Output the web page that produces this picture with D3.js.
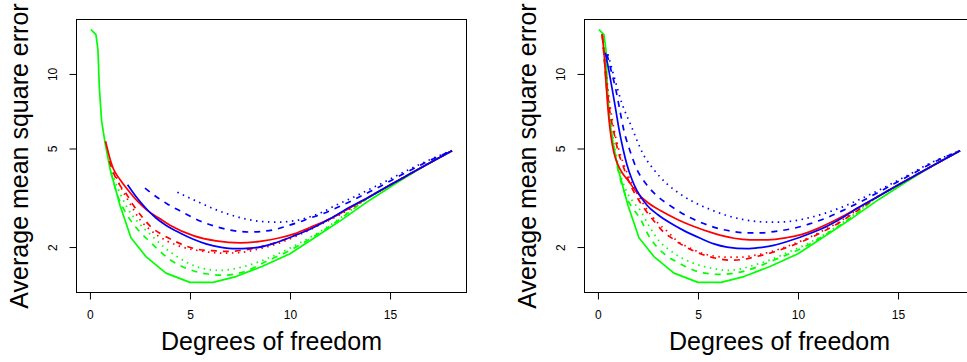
<!DOCTYPE html>
<meta charset="utf-8">
<title>Average mean square error vs degrees of freedom</title>
<style>

body {
  margin: 0;
  background: #fff;
}

text {
  font-family: "Liberation Sans", Arial, sans-serif;
  fill: #000;
}

.frame {
  fill: none;
  stroke: #000;
  stroke-width: 1px;
}

.tick line {
  stroke: #000;
}

.curve {
  fill: none;
  stroke-width: 1.7px;
  stroke-linejoin: round;
}

</style>
<svg width="967" height="362"></svg>
<script src="https://d3js.org/d3.v7.min.js"></script>
<script>

// tick labels
var dfTicks = [0, 5, 10, 15];
var mseTicks = [2, 5, 10];

// [degrees of freedom, average MSE]

// the part every curve shares once df gets large
var tail = [[14, 3.2], [15, 3.56], [16, 3.95], [17, 4.38], [18.1, 4.9]];

// green solid line is the same in both panels
var greenSolid = [[0.05, 15.1], [0.3, 14.4], [0.4, 12.5], [0.47, 8.8], [0.58, 6.5], [0.75, 5.3],
  [1.0, 4.15], [1.5, 2.95], [2.05, 2.18], [2.8, 1.83], [3.8, 1.57], [5.0, 1.44], [6.15, 1.44],
  [7.3, 1.52], [8.6, 1.67], [10.0, 1.88], [11.3, 2.2], [12.6, 2.58], [14.0, 3.1], [15.3, 3.62],
  [16.7, 4.25], [18.1, 4.9]];

// left panel
var leftGreenDashed = [[1.05, 4.0], [1.4, 3.2], [1.85, 2.7], [2.4, 2.35], [3.0, 2.1], [4.0, 1.78],
  [5.0, 1.62], [5.8, 1.56], [6.7, 1.54], [7.8, 1.6], [8.8, 1.75], [10, 1.94], [11, 2.16],
  [12, 2.43], [13, 2.78]].concat(tail);
var leftGreenDotted = [[1.1, 4.0], [1.4, 3.45], [1.85, 2.9], [2.4, 2.52], [3.0, 2.26], [3.7, 2.0],
  [4.4, 1.82], [5.5, 1.65], [6.5, 1.61], [7.6, 1.66], [8.8, 1.79], [10, 1.98], [11, 2.19],
  [12, 2.45], [13, 2.8]].concat(tail);
var leftRedSolid = [[0.78, 5.35], [1.0, 4.55], [1.17, 4.14], [1.5, 3.75], [1.85, 3.44], [2.4, 3.05],
  [2.85, 2.82], [3.5, 2.6], [4.0, 2.45], [5.2, 2.22], [6.3, 2.12], [7.5, 2.08], [8.5, 2.11],
  [9.5, 2.18], [10.2, 2.26], [11, 2.4], [12, 2.6], [13, 2.88]].concat(tail);
var leftRedDashed = [[0.97, 4.45], [1.2, 3.95], [1.5, 3.55], [1.83, 3.27], [2.17, 2.95], [2.6, 2.65],
  [3.08, 2.4], [3.6, 2.25], [4.0, 2.16], [4.8, 2.02], [5.5, 1.95], [6.3, 1.93], [6.9, 1.92],
  [7.8, 1.95], [8.8, 2.03], [9.83, 2.16], [11, 2.38], [12, 2.6], [13, 2.88]].concat(tail);
var leftRedDotted = [[1.1, 4.25], [1.5, 3.55], [2.0, 3.0], [2.5, 2.58], [3.0, 2.35], [3.4, 2.22],
  [4.3, 2.04], [5.5, 1.93], [6.7, 1.89], [7.5, 1.9], [8.5, 1.97], [9.5, 2.08], [10.5, 2.25],
  [11.5, 2.46], [12.5, 2.7], [13.3, 2.95]].concat(tail);
var leftBlueSolid = [[1.88, 3.57], [2.3, 3.2], [2.83, 2.85], [3.3, 2.62], [3.83, 2.44], [4.5, 2.28],
  [5.17, 2.15], [5.8, 2.06], [6.5, 2.0], [7.3, 1.97], [8.0, 1.98], [8.5, 2.0], [9.2, 2.07],
  [9.83, 2.16], [10.5, 2.27], [11, 2.36], [12, 2.6], [13, 2.9]].concat(tail);
var leftBlueDashed = [[2.75, 3.46], [3.3, 3.2], [3.83, 3.0], [4.5, 2.8], [5.5, 2.55], [6.3, 2.42],
  [7.17, 2.33], [8.0, 2.3], [8.5, 2.31], [9.2, 2.35], [9.83, 2.43], [10.5, 2.53], [11, 2.62],
  [11.5, 2.7], [12.33, 2.88], [13.17, 3.1], [14, 3.35], [14.83, 3.63], [15.7, 3.96], [16.5, 4.28],
  [17.3, 4.6], [18.1, 4.9]];
var leftBlueDotted = [[4.37, 3.33], [5.0, 3.15], [5.5, 3.02], [6.2, 2.85], [6.83, 2.73], [7.5, 2.63],
  [8.17, 2.56], [8.8, 2.53], [9.33, 2.52], [10, 2.54], [10.5, 2.58], [11, 2.65], [11.5, 2.74],
  [12.33, 2.96], [13.17, 3.18], [14, 3.43], [14.83, 3.7], [15.7, 4.02], [16.5, 4.32],
  [17.3, 4.62], [18.1, 4.9]];

// right panel
var rightGreenDashed = [[0.22, 14.3], [0.3, 12.0], [0.42, 9.0], [0.55, 7.0], [0.7, 5.6], [0.9, 4.5],
  [1.1, 3.8], [1.4, 3.2], [1.7, 2.9], [2.12, 2.6], [2.5, 2.25], [2.95, 2.0], [3.45, 1.84],
  [3.95, 1.74], [4.5, 1.65], [5.12, 1.58], [5.6, 1.56], [6.1, 1.55], [6.8, 1.57], [7.45, 1.61],
  [8.1, 1.68], [8.78, 1.77], [9.5, 1.87], [10.3, 2.0], [11.2, 2.2], [12.1, 2.45], [13, 2.76]].concat(tail);
var rightGreenDotted = [[0.22, 14.3], [0.3, 12.2], [0.42, 9.4], [0.55, 7.4], [0.7, 6.0], [0.9, 4.8],
  [1.1, 4.0], [1.4, 3.4], [1.75, 3.05], [2.12, 2.81], [2.6, 2.4], [3.12, 2.09], [3.6, 1.94],
  [4.12, 1.82], [4.7, 1.73], [5.28, 1.67], [5.9, 1.63], [6.45, 1.61], [7.1, 1.63], [7.78, 1.69],
  [8.4, 1.75], [8.95, 1.82], [9.6, 1.92], [10.3, 2.03], [11.2, 2.22], [12.1, 2.47], [13, 2.78]].concat(tail);
var rightRedSolid = [[0.2, 14.5], [0.3, 12.3], [0.4, 9.3], [0.53, 6.8], [0.65, 5.6], [0.8, 4.8],
  [1.0, 4.3], [1.2, 4.0], [1.5, 3.72], [1.95, 3.32], [2.5, 3.02], [3.12, 2.81], [4.0, 2.58],
  [4.8, 2.42], [5.8, 2.27], [6.8, 2.17], [7.6, 2.14], [8.5, 2.14], [9.4, 2.18], [10.2, 2.25],
  [11, 2.38], [12, 2.6], [13, 2.88]].concat(tail);
var rightRedDashed = [[0.22, 14.3], [0.3, 12.0], [0.45, 8.8], [0.6, 7.0], [0.78, 5.9], [1.0, 4.9],
  [1.28, 4.2], [1.6, 3.6], [1.95, 3.18], [2.4, 2.8], [2.78, 2.56], [3.28, 2.3], [3.78, 2.15],
  [4.12, 2.06], [4.6, 1.96], [5.12, 1.88], [5.95, 1.8], [6.6, 1.77], [7.2, 1.78], [7.78, 1.82],
  [8.78, 1.91], [9.5, 2.0], [10.3, 2.12], [11.2, 2.3], [12.1, 2.52], [13, 2.82]].concat(tail);
var rightRedDotted = [[0.22, 14.3], [0.3, 12.2], [0.45, 9.4], [0.6, 7.5], [0.8, 6.0], [1.0, 5.1],
  [1.3, 4.3], [1.6, 3.75], [2.0, 3.25], [2.5, 2.8], [3.0, 2.5], [3.5, 2.3], [3.95, 2.12],
  [4.5, 2.0], [5.12, 1.9], [5.8, 1.84], [6.45, 1.82], [7.1, 1.82], [7.78, 1.85], [8.78, 1.93],
  [9.5, 2.02], [10.3, 2.14], [11.2, 2.32], [12.1, 2.54], [13, 2.84]].concat(tail);
var rightBlueSolid = [[0.37, 12.2], [0.5, 10.8], [0.7, 8.8], [0.9, 7.1], [1.05, 6.0], [1.25, 5.0],
  [1.45, 4.3], [1.7, 3.75], [1.95, 3.38], [2.45, 2.95], [3.0, 2.7], [3.62, 2.5], [4.3, 2.33],
  [5.12, 2.17], [5.8, 2.06], [6.45, 2.0], [7.45, 1.97], [8.1, 1.99], [8.78, 2.03], [9.5, 2.11],
  [10.6, 2.27], [11.5, 2.44], [12.3, 2.65], [13, 2.88]].concat(tail);
var rightBlueDashed = [[0.45, 12.0], [0.65, 10.4], [0.9, 8.6], [1.1, 7.1], [1.3, 5.9], [1.6, 4.9],
  [1.9, 4.2], [2.4, 3.6], [2.95, 3.22], [3.5, 2.98], [3.95, 2.82], [4.6, 2.63], [5.28, 2.49],
  [6.0, 2.38], [6.78, 2.31], [7.5, 2.28], [8.1, 2.28], [8.8, 2.31], [9.78, 2.38], [10.5, 2.47],
  [11.3, 2.6], [12.2, 2.8], [13.1, 3.04], [14, 3.32], [14.8, 3.6], [15.7, 3.94], [16.5, 4.28],
  [17.3, 4.6], [18.1, 4.9]];
var rightBlueDotted = [[0.5, 12.0], [0.8, 9.8], [1.2, 7.6], [1.65, 6.2], [2.25, 4.76], [2.8, 4.1],
  [3.45, 3.6], [4.1, 3.28], [4.78, 3.04], [5.6, 2.84], [6.45, 2.68], [7.3, 2.58], [8.1, 2.53],
  [8.9, 2.52], [9.78, 2.55], [10.5, 2.62], [11.3, 2.73], [12.2, 2.9], [13.1, 3.12], [14, 3.38],
  [14.8, 3.65], [15.7, 3.98], [16.5, 4.32], [17.3, 4.62], [18.1, 4.9]];

var green = "#00ff00", red = "#ff0000", blue = "#0000ff";
var dashed = "6,6", dotted = "1.5,4.5";

var panels = [
  {left: 76.5, series: [
    {d: greenSolid, c: green, dash: null, linear: true},
    {d: leftGreenDashed, c: green, dash: dashed},
    {d: leftGreenDotted, c: green, dash: dotted},
    {d: leftRedSolid, c: red, dash: null},
    {d: leftRedDashed, c: red, dash: dashed},
    {d: leftRedDotted, c: red, dash: dotted},
    {d: leftBlueSolid, c: blue, dash: null},
    {d: leftBlueDashed, c: blue, dash: dashed},
    {d: leftBlueDotted, c: blue, dash: dotted}
  ]},
  {left: 584.5, series: [
    {d: greenSolid, c: green, dash: null, linear: true},
    {d: rightGreenDashed, c: green, dash: dashed},
    {d: rightGreenDotted, c: green, dash: dotted},
    {d: rightRedSolid, c: red, dash: null},
    {d: rightRedDashed, c: red, dash: dashed},
    {d: rightRedDotted, c: red, dash: dotted},
    {d: rightBlueSolid, c: blue, dash: null},
    {d: rightBlueDashed, c: blue, dash: dashed},
    {d: rightBlueDotted, c: blue, dash: dotted}
  ]}
];

var svg = d3.select("svg"),
    boxW = 390,
    boxTop = 19.5,
    boxBottom = 292.5;

panels.forEach(function(p) {
  var all = d3.merge(p.series.map(function(s) { return s.d; }));

  // R style: 4% padding each side (log space for y)
  var xExt = d3.extent(all, function(d) { return d[0]; }),
      xPad = 0.04 * (xExt[1] - xExt[0]);
  var lExt = d3.extent(all, function(d) { return Math.log10(d[1]); }),
      lPad = 0.04 * (lExt[1] - lExt[0]);

  var x = d3.scaleLinear()
      .domain([xExt[0] - xPad, xExt[1] + xPad])
      .range([p.left, p.left + boxW]);
  var y = d3.scaleLog()
      .domain([Math.pow(10, lExt[0] - lPad), Math.pow(10, lExt[1] + lPad)])
      .range([boxBottom, boxTop]);

  var g = svg.append("g");

  p.series.forEach(function(s) {
    var line = d3.line()
        .x(function(d) { return x(d[0]); })
        .y(function(d) { return y(d[1]); })
        .curve(s.linear ? d3.curveLinear : d3.curveMonotoneX);
    g.append("path")
        .attr("class", "curve")
        .attr("d", line(s.d))
        .attr("stroke", s.c)
        .attr("stroke-dasharray", s.dash);
  });

  g.append("rect")
      .attr("class", "frame")
      .attr("x", p.left)
      .attr("y", boxTop)
      .attr("width", boxW)
      .attr("height", boxBottom - boxTop);

  var xAxis = g.append("g")
      .attr("transform", "translate(0," + boxBottom + ")")
      .call(d3.axisBottom(x).tickValues(dfTicks).tickSize(7).tickPadding(11));
  xAxis.select(".domain").remove();
  xAxis.selectAll("text").style("font-size", "12px");

  var yAxis = g.append("g")
      .attr("transform", "translate(" + p.left + ",0)")
      .call(d3.axisLeft(y).tickValues(mseTicks).tickSize(7).tickFormat(d3.format("d")));
  yAxis.select(".domain").remove();
  yAxis.selectAll("text")
      .style("font-size", "12px")
      .attr("x", null)
      .attr("dy", null)
      .attr("text-anchor", "middle")
      .attr("transform", "translate(-19.5,0) rotate(-90)");

  g.append("text")
      .attr("x", p.left + boxW / 2)
      .attr("y", 350)
      .attr("text-anchor", "middle")
      .style("font-size", "25px")
      .text("Degrees of freedom");

  g.append("text")
      .attr("transform", "translate(" + (p.left - 48.5) + "," + ((boxTop + boxBottom) / 2) + ") rotate(-90)")
      .attr("text-anchor", "middle")
      .style("font-size", "25px")
      .text("Average mean square error");
});

</script>
